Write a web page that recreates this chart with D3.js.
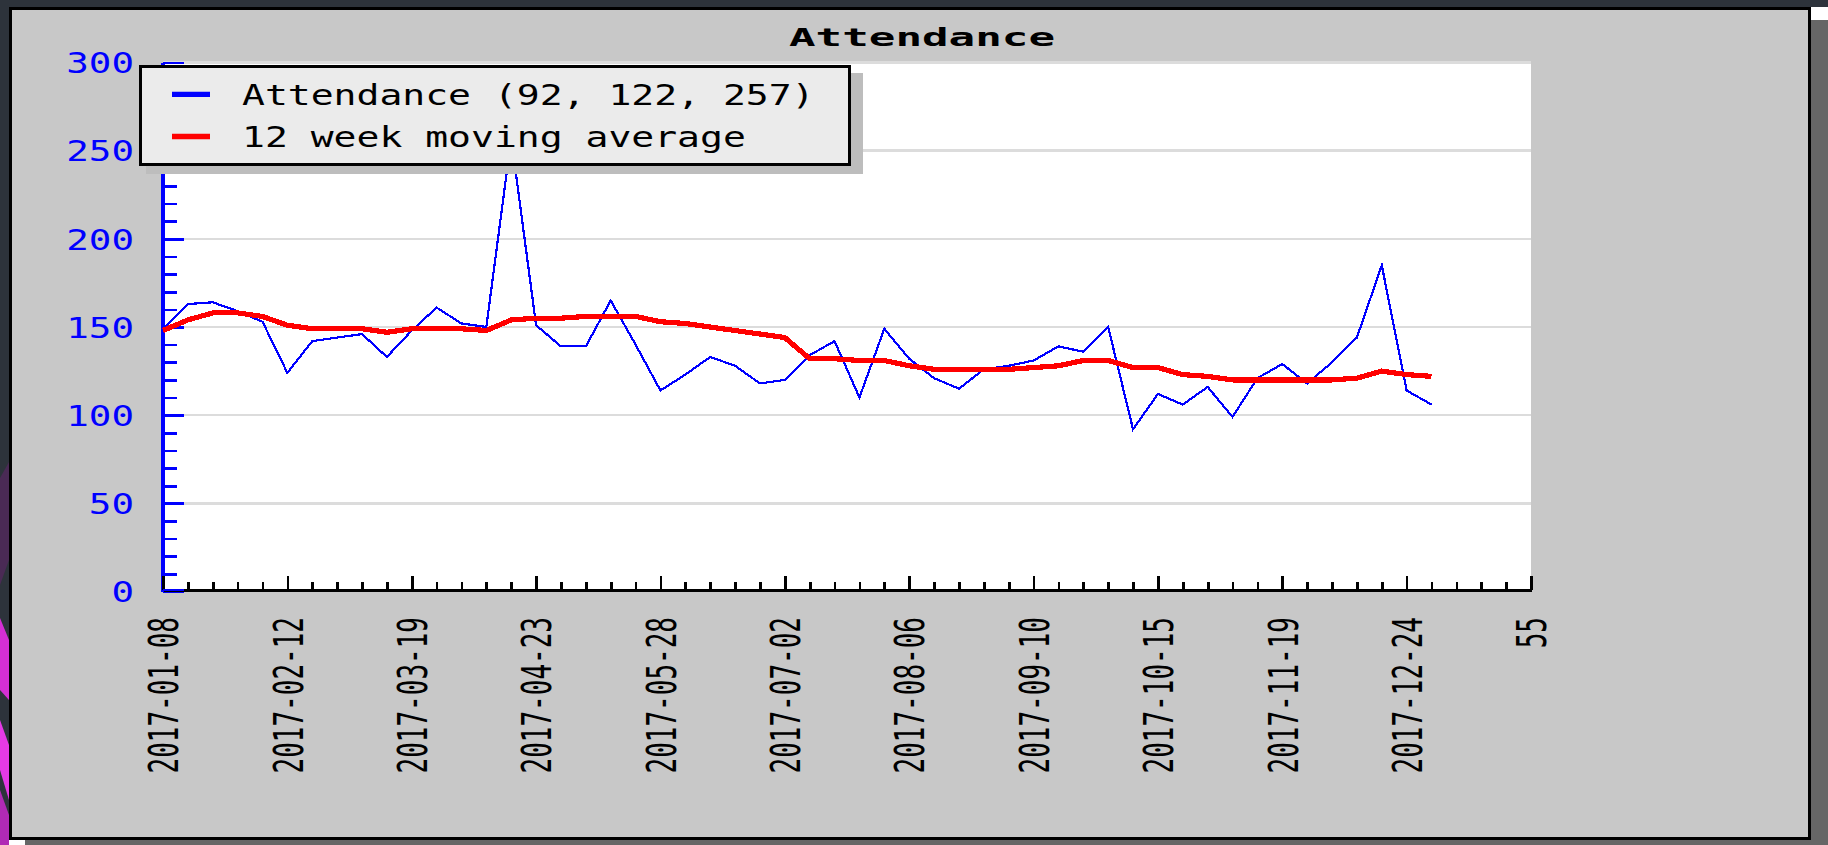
<!DOCTYPE html>
<html>
<head>
<meta charset="utf-8">
<script src="https://cdn.jsdelivr.net/npm/d3@7"></script>
<style>
  html, body { margin: 0; padding: 0; background: #2d333b; overflow: hidden; }
  svg { display: block; }
  text { font-family: "DejaVu Sans Mono", "Liberation Mono", monospace; }
</style>
</head>
<body>
<svg id="chart" width="1828" height="845"></svg>
<script>
// ---------------- data ----------------
const title = "Attendance";
const attendance = [149, 163, 164, 159, 153, 124, 142, 144, 146, 133,
                    148, 161, 152, 150, 257, 151, 139, 139, 165, 140,
                    114, 123, 133, 128, 118, 120, 134, 142, 110, 149,
                    132, 121, 115, 126, 128, 131, 139, 136, 150, 92,
                    112, 106, 116, 99, 121, 129, 118, 130, 144, 185,
                    114, 106];
const movingAverage = [148, 154, 158, 158, 156, 151, 149, 149, 149, 147,
                       149, 149, 149, 148, 154, 155, 155, 156, 156, 156,
                       153, 152, 150, 148, 146, 144, 132, 132, 131, 131,
                       128, 126, 126, 126, 126, 127, 128, 131, 131, 127,
                       127, 123, 122, 120, 120, 120, 120, 120, 121, 125,
                       123, 122];
const xMajorTicks = [0, 5, 10, 15, 20, 25, 30, 35, 40, 45, 50, 55];
const xTickLabels = ["2017-01-08", "2017-02-12", "2017-03-19", "2017-04-23",
                     "2017-05-28", "2017-07-02", "2017-08-06", "2017-09-10",
                     "2017-10-15", "2017-11-19", "2017-12-24", "55"];
const yMajorTicks = [0, 50, 100, 150, 200, 250, 300];
const seriesNames = ["Attendance", "12 week moving average"];

// ---------------- layout ----------------
const svg = d3.select("#chart");
const W = 1828, H = 845;
const plot = { left: 163, right: 1531, top: 62.5, bottom: 591.5 };

const x = d3.scaleLinear().domain([0, 55]).range([plot.left, plot.right]);
const y = d3.scaleLinear().domain([0, 300]).range([plot.bottom, plot.top]);

// background / window
svg.append("rect").attr("width", W).attr("height", H).attr("fill", "#2d333b");
const deco = svg.append("g");
deco.append("path").attr("d", "M0,478 L9,462 L9,560 L0,585 Z").attr("fill", "#4a2a55");
deco.append("path").attr("d", "M0,618 L9,640 L9,700 L0,690 Z").attr("fill", "#d42fd4");
deco.append("path").attr("d", "M0,720 L9,745 L9,800 L0,770 Z").attr("fill", "#e53ae5");
deco.append("path").attr("d", "M0,790 L9,815 L9,845 L0,845 Z").attr("fill", "#b02ab5");
svg.append("rect").attr("x", 9).attr("y", 7).attr("width", W - 9).attr("height", H - 7).attr("fill", "#ffffff");
svg.append("rect").attr("x", 25).attr("y", 20).attr("width", W - 25).attr("height", H - 20).attr("fill", "#666666");
svg.append("rect").attr("x", 10.5).attr("y", 8.5).attr("width", 1799).attr("height", 830)
   .attr("fill", "#c8c8c8").attr("stroke", "#000").attr("stroke-width", 3);

// title
svg.append("text")
   .attr("x", 922).attr("y", 46)
   .attr("text-anchor", "middle")
   .attr("font-size", 25.6).attr("font-weight", "bold")
   .attr("textLength", 266).attr("lengthAdjust", "spacingAndGlyphs")
   .attr("fill", "#000")
   .text(title);

// plot background
svg.append("rect")
   .attr("x", plot.left).attr("y", y(300))
   .attr("width", plot.right - plot.left).attr("height", y(0) - y(300))
   .attr("fill", "#ffffff");

// gridlines
svg.append("g").selectAll("line").data(yMajorTicks.filter(v => v > 0)).join("line")
   .attr("x1", plot.left).attr("x2", plot.right)
   .attr("y1", d => y(d)).attr("y2", d => y(d))
   .attr("stroke", "#dcdcdc").attr("stroke-width", 2.5)
   .attr("shape-rendering", "crispEdges");

// y axis: ticks (inside, to the right)
const yTicksAll = d3.range(0, 301, 10);
const yAxisTicks = svg.append("g").attr("transform", `translate(${plot.left},0)`)
   .call(d3.axisRight(y).tickValues(yTicksAll).tickSize(13.5).tickSizeOuter(0).tickFormat(""));
yAxisTicks.selectAll(".tick line")
   .attr("x2", d => (d % 50 === 0 ? 21 : 13.5))
   .attr("stroke", "#0000ff").attr("stroke-width", 2.7)
   .attr("shape-rendering", "crispEdges");
yAxisTicks.select(".domain").remove();
svg.append("line")
   .attr("x1", plot.left).attr("x2", plot.left)
   .attr("y1", y(300)).attr("y2", y(0))
   .attr("stroke", "#0000ff").attr("stroke-width", 3.5)
   .attr("shape-rendering", "crispEdges");

// y axis labels
const yLabels = svg.append("g").attr("transform", `translate(${plot.left},0)`)
   .call(d3.axisLeft(y).tickValues(yMajorTicks).tickSize(0).tickPadding(29).tickFormat(d3.format("d")));
yLabels.select(".domain").remove();
yLabels.selectAll(".tick text")
   .attr("font-family", "DejaVu Sans Mono")
   .attr("font-size", 28.4)
   .attr("fill", "#0000ff")
   .attr("dy", "0.36em")
   .attr("textLength", function(d) { return String(d).length * 22.6; })
   .attr("lengthAdjust", "spacingAndGlyphs");

// x axis
const xAxisY = y(0) - 1.5;
const xAxisMinor = svg.append("g").attr("transform", `translate(0,${xAxisY})`)
   .call(d3.axisBottom(x).tickValues(d3.range(0, 56)).tickSizeInner(-8).tickSizeOuter(0).tickFormat(""));
xAxisMinor.selectAll(".tick line").attr("stroke", "#000").attr("stroke-width", 2.7)
   .attr("shape-rendering", "crispEdges");
xAxisMinor.select(".domain").attr("stroke", "#000").attr("stroke-width", 2.4)
   .attr("shape-rendering", "crispEdges");

const xAxisMajor = svg.append("g").attr("transform", `translate(0,${xAxisY})`)
   .call(d3.axisBottom(x).tickValues(xMajorTicks).tickSizeInner(-14).tickSizeOuter(0)
         .tickFormat((d, i) => xTickLabels[i]));
xAxisMajor.select(".domain").remove();
xAxisMajor.selectAll(".tick line").attr("stroke", "#000").attr("stroke-width", 2.7)
   .attr("shape-rendering", "crispEdges");
xAxisMajor.selectAll(".tick text")
   .attr("font-family", "DejaVu Sans Mono")
   .attr("font-size", 26)
   .attr("fill", "#000")
   .attr("text-anchor", "end")
   .attr("x", 0).attr("y", 0)
   .attr("dy", "0.36em")
   .attr("transform", "translate(0,27) scale(1.58,1) rotate(-90)");

// redraw blue 0 tick over x axis
svg.append("line")
   .attr("x1", plot.left).attr("x2", plot.left + 21)
   .attr("y1", xAxisY).attr("y2", xAxisY)
   .attr("stroke", "#0000ff").attr("stroke-width", 2.7)
   .attr("shape-rendering", "crispEdges");

// series
const lineGen = d3.line().x((d, i) => x(i)).y(d => y(d));
svg.append("path").datum(attendance)
   .attr("d", lineGen)
   .attr("fill", "none").attr("stroke", "#0000ff").attr("stroke-width", 2.2)
   .attr("stroke-linejoin", "miter")
   .attr("shape-rendering", "crispEdges");
svg.append("path").datum(movingAverage)
   .attr("d", lineGen)
   .attr("fill", "none").attr("stroke", "#ff0000").attr("stroke-width", 5.2)
   .attr("stroke-linejoin", "round")
   .attr("shape-rendering", "crispEdges");

// legend
const legend = svg.append("g");
legend.append("rect").attr("x", 146).attr("y", 73).attr("width", 717).attr("height", 101).attr("fill", "#bdbdbd");
legend.append("rect").attr("x", 140.5).attr("y", 66.5).attr("width", 709).attr("height", 98)
   .attr("fill", "#ebebeb").attr("stroke", "#000").attr("stroke-width", 3);
const legendLabels = [
  `${seriesNames[0]} (${d3.min(attendance)}, ${movingAverage[movingAverage.length - 1]}, ${d3.max(attendance)})`,
  seriesNames[1]
];
const legendColors = ["#0000ff", "#ff0000"];
const legendRows = [{ lineY: 94.3, baseY: 105 }, { lineY: 136.5, baseY: 146.7 }];
legendRows.forEach((r, i) => {
  legend.append("line")
     .attr("x1", 172).attr("x2", 210).attr("y1", r.lineY).attr("y2", r.lineY)
     .attr("stroke", legendColors[i]).attr("stroke-width", 5.3);
  legend.append("text")
     .attr("x", 242).attr("y", r.baseY)
     .attr("font-size", 28.4)
     .attr("fill", "#000")
     .attr("textLength", legendLabels[i].length * 22.9)
     .attr("lengthAdjust", "spacingAndGlyphs")
     .text(legendLabels[i]);
});
</script>
</body>
</html>
